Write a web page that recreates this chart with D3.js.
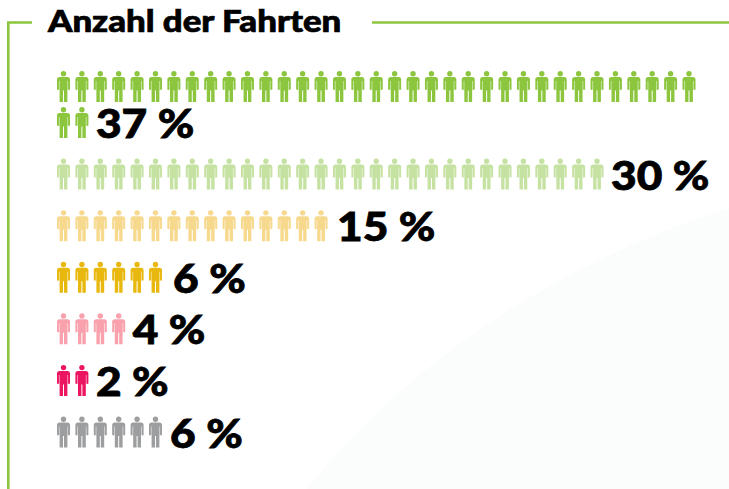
<!DOCTYPE html>
<html><head><meta charset="utf-8">
<script src="https://cdn.jsdelivr.net/npm/d3@7"></script>
<style>html,body{margin:0;padding:0;background:#fff}svg{display:block}
text{font-family:"Lato",sans-serif;font-weight:900;fill:#000;stroke:#000;paint-order:stroke}</style></head>
<body><svg id="c" width="729" height="489"></svg>
<script>
const titleText = "Anzahl der Fahrten";
const categories = ["a","b","c","d","e","f","g"];
const shares = [37,30,15,6,4,2,6];
const colors = ["#8cc63f","#c6e2a3","#f7d98e","#e8b80e","#f9a1ac","#ec1561","#9d9ea0"];
const perLine = 35;

const svg = d3.select("#c");

// pale background sweep
svg.append("path")
  .attr("d","M729 208 C 560 262 410 360 307 489 L729 489 Z")
  .attr("fill","#fbfcfc");

// frame
const green = "#8cc63f";
svg.append("path").attr("fill","none").attr("stroke",green).attr("stroke-width",2.6)
  .attr("d","M32 22.5 H8.3 V489");
svg.append("line").attr("x1",372).attr("x2",729).attr("y1",22.5).attr("y2",22.5)
  .attr("stroke",green).attr("stroke-width",2.6);

svg.append("text").attr("transform","translate(48,32) scale(1.16,1)")
  .attr("font-size",30).attr("stroke-width",0.7).text(titleText);

// scales
const x = d3.scaleLinear().domain([0,34]).range([63.5,689]);
const y = d3.scalePoint().domain(categories).range([107,416.5]);
const lineGap = 36;
const iconPath = d3.path();
iconPath.moveTo(9.2,2.7);iconPath.arc(6.5,2.7,2.7,0,2*Math.PI);
const pts = "M2.6 6 H10.4 Q13 6 13 8.6 V18.6 Q12 19.4 11 18.6 H10.4 V31 H7 V19.5 H6 V31 H2.6 V18.6 H2 Q1 19.4 0 18.6 V8.6 Q0 6 2.6 6 Z";
const iconD = iconPath.toString() + pts;
const gapD = "M1.9 10 H2.6 V18.6 H1.9 Z M10.4 10 H11.1 V18.6 H10.4 Z";
const labelGap = [7.5,7.5,9.5,11,7.5,7.5,8];

categories.forEach((c,i)=>{
  const n = shares[i];
  const extra = Math.max(0,n-perLine);
  const g = svg.append("g").attr("fill",colors[i]);
  const cells = d3.range(n).map(k=>{
    if(k<perLine && n>perLine) return {col:k,line:-1};
    if(n>perLine) return {col:k-perLine,line:0};
    return {col:k,line:0};
  });
  const tr = d=>`translate(${x(d.col)-6.5},${y(c)+d.line*lineGap})`;
  g.selectAll("path.b").data(cells).join("path").attr("class","b")
    .attr("d",iconD).attr("transform",tr);
  g.selectAll("path.g").data(cells).join("path").attr("class","g")
    .attr("d",gapD).attr("fill","#fff").attr("fill-opacity",0.7).attr("transform",tr);
  const lastCol = n>perLine ? extra-1 : n-1;
  svg.append("text")
    .attr("transform",`translate(${x(lastCol)+6.5+labelGap[i]},${y(c)+31}) scale(1.12,1)`)
    .attr("font-size",39.5).attr("stroke-width",0.8)
    .text(n+" %");
});
</script></body></html>
